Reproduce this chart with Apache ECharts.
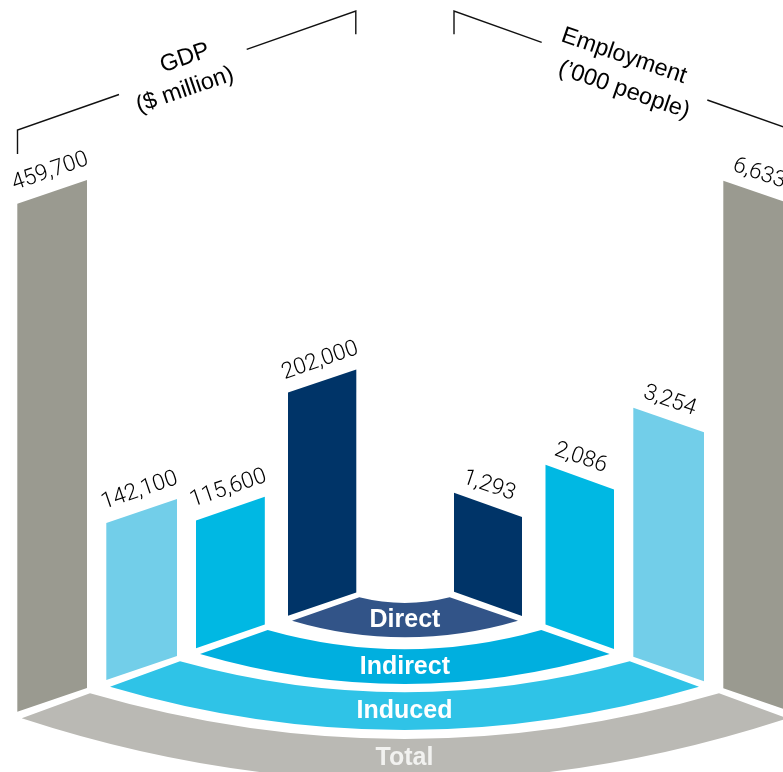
<!DOCTYPE html>
<html>
<head>
<meta charset="utf-8">
<style>html,body{margin:0;padding:0;background:#fff}#chart{width:783px;height:772px;overflow:hidden}</style>
<script src="https://cdn.jsdelivr.net/npm/echarts@6/dist/echarts.min.js"></script>
</head>
<body>
<div id="chart"></div>
<script>
// Economic contribution, split by direct, indirect and induced effects
const bandNames = ['Direct', 'Indirect', 'Induced', 'Total'];
const gdpCategories = ['Total', 'Induced', 'Indirect', 'Direct'];
const gdpValues = [459700, 142100, 115600, 202000];
const employmentCategories = ['Direct', 'Indirect', 'Induced', 'Total'];
const employmentValues = [1293, 2086, 3254, 6633];

const barColors = { Total: '#9a9a90', Induced: '#72cee9', Indirect: '#00b8e3', Direct: '#003468' };
const bandColors = { Total: '#bab9b4', Induced: '#2fc3e7', Indirect: '#00afdf', Direct: '#325488' };
const bandTextColors = { Total: '#f2f2f0', Induced: '#fff', Indirect: '#fff', Direct: '#fff' };

// Footprint of each column on the curved floor: left/right edge, and floor height at each edge
const gdpFootprint = [
  [17.3, 87, 711.7, 687.9], [106.3, 177, 680, 656], [196, 264.8, 648.3, 624.5], [288, 356.3, 615.8, 592.6]
];
const employmentFootprint = [
  [454, 522, 591.8, 616], [545.5, 614, 624.4, 649], [633.3, 704, 656.8, 681.2], [723.3, 793, 688.3, 712.2]
];

// Floor bands: outer corners, inner corners and the mid-height of both curved edges
const bandShapes = {
  Direct:   { outer: [292, 518, 620.7], inner: [359.3, 449.7, 597.3], innerMid: 603, outerMid: 637.3, labelY: 620 },
  Indirect: { outer: [200, 609.7, 654], inner: [267.7, 541.3, 630], innerMid: 649.3, outerMid: 684, labelY: 667 },
  Induced:  { outer: [110, 699, 686.7], inner: [180, 629.7, 661.3], innerMid: 692.3, outerMid: 730, labelY: 711 },
  Total:    { outer: [21.7, 787.3, 718.3], inner: [90, 719, 693.3], innerMid: 739, outerMid: 781, labelY: 758 }
};

const LABEL_FONT = 'Roboto, "Liberation Sans", sans-serif';
const BAND_FONT = '"Liberation Sans", Arial, sans-serif';
const SLOPE = 0.33;

function columnRenderer(categories, footprint, slope, labelShift) {
  return function (params, api) {
    const i = api.value(0);
    const v = api.value(1);
    const [xl, xr, baseL, baseR] = footprint[i];
    const zero = api.coord([0, 0])[1];
    const h = zero - api.coord([0, v])[1];
    const left = api.coord([xl, 0])[0];
    const right = api.coord([xr, 0])[0];
    const midX = (left + right) / 2;
    const midTop = (baseL + baseR) / 2 - h;
    return {
      type: 'group',
      children: [
        {
          type: 'polygon',
          shape: { points: [[left, baseL], [right, baseR], [right, baseR - h], [left, baseL - h]] },
          style: { fill: barColors[categories[i]] }
        },
        {
          type: 'text',
          x: midX + labelShift[0],
          y: midTop + labelShift[1],
          rotation: slope,
          style: {
            text: v.toLocaleString('en-US'),
            fontFamily: LABEL_FONT,
            fontWeight: 300,
            fontSize: 22.5,
            fill: '#000',
            align: 'center',
            verticalAlign: 'middle'
          }
        }
      ]
    };
  };
}

function bandRenderer(params, api) {
  const name = bandNames[api.value(0)];
  const s = bandShapes[name];
  const p = (x, y) => api.coord([x, y]);
  const cx = (s.outer[0] + s.outer[1]) / 2;
  const a = p(s.outer[0], s.outer[2]);
  const b = p(s.inner[0], s.inner[2]);
  const c = p(s.inner[1], s.inner[2]);
  const d = p(s.outer[1], s.outer[2]);
  const innerCtl = p(cx, 2 * s.innerMid - s.inner[2]);
  const outerCtl = p(cx, 2 * s.outerMid - s.outer[2]);
  const path = `M${a[0]} ${a[1]}L${b[0]} ${b[1]}Q${innerCtl[0]} ${innerCtl[1]} ${c[0]} ${c[1]}` +
    `L${d[0]} ${d[1]}Q${outerCtl[0]} ${outerCtl[1]} ${a[0]} ${a[1]}Z`;
  const at = p(cx, s.labelY);
  return {
    type: 'group',
    children: [
      { type: 'path', shape: { pathData: path }, style: { fill: bandColors[name] } },
      {
        type: 'text', x: at[0], y: at[1],
        style: {
          text: name, fontFamily: BAND_FONT, fontWeight: 'bold', fontSize: 25,
          fill: bandTextColors[name], align: 'center', verticalAlign: 'middle'
        }
      }
    ]
  };
}

function titleText(text, x, y, rotation) {
  return {
    type: 'text', x, y, rotation,
    style: {
      text, fontFamily: '"Liberation Sans", Arial, sans-serif', fontSize: 23.5,
      fill: '#000', align: 'center', verticalAlign: 'middle'
    }
  };
}

function bracket(points) {
  return {
    type: 'polyline',
    shape: { points },
    style: { stroke: '#111', lineWidth: 1.4, fill: null }
  };
}

const chart = echarts.init(document.getElementById('chart'), null, { renderer: 'canvas' });
chart.setOption({
  animation: false,
  backgroundColor: '#fff',
  grid: { left: 0, top: 0, width: 783, height: 772 },
  xAxis: { type: 'value', min: 0, max: 783, show: false },
  yAxis: [
    { type: 'value', min: 0, max: 698600, show: false },
    { type: 'value', min: 0, max: 10090, show: false },
    { type: 'value', min: 0, max: 772, inverse: true, show: false }
  ],
  series: [
    {
      type: 'custom', name: 'GDP ($ million)', yAxisIndex: 0, encode: { x: 0, y: 1 }, clip: false,
      data: gdpValues.map((v, i) => [i, v]),
      renderItem: columnRenderer(gdpCategories, gdpFootprint, SLOPE, [-2, -20])
    },
    {
      type: 'custom', name: "Employment ('000 people)", yAxisIndex: 1, encode: { x: 0, y: 1 }, clip: false,
      data: employmentValues.map((v, i) => [i, v]),
      renderItem: columnRenderer(employmentCategories, employmentFootprint, -SLOPE, [1, -19])
    },
    {
      type: 'custom', name: 'Floor', yAxisIndex: 2, encode: { x: 0, y: 1 }, clip: false,
      data: bandNames.map((n, i) => [i, 0]),
      renderItem: bandRenderer
    }
  ],
  graphic: [
    bracket([[17.5, 154], [17.5, 130], [119, 94.5]]),
    bracket([[246.7, 49.3], [355.8, 11], [355.8, 34.3]]),
    bracket([[454, 34.3], [454, 11], [541.7, 42.3]]),
    bracket([[707.3, 100], [795, 131]]),
    titleText('GDP', 185, 58, SLOPE),
    titleText('($ million)', 185, 90, SLOPE),
    titleText('Employment', 624, 56, -SLOPE),
    titleText('(\u2019000 people)', 624, 90, -SLOPE)
  ]
});
</script>
</body>
</html>
